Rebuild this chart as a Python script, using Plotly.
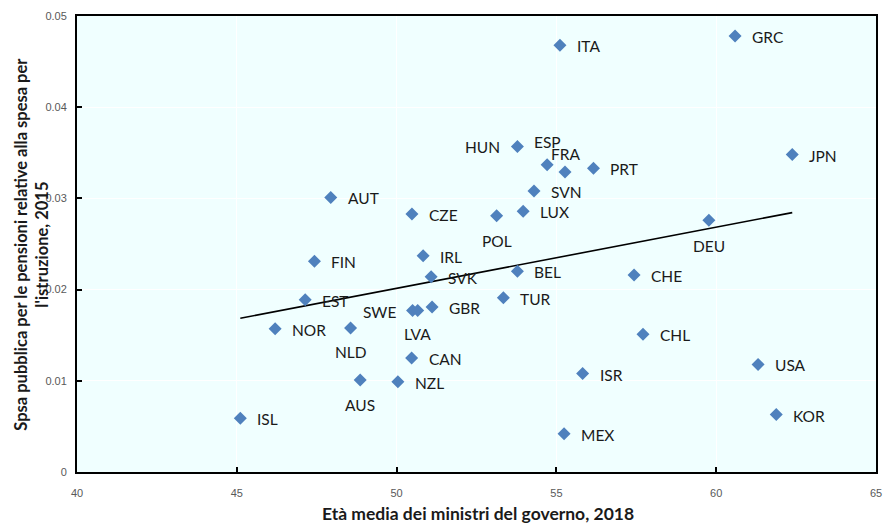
import numpy as np
import plotly.graph_objects as go

countries = ["ITA", "GRC", "JPN", "HUN", "ESP", "FRA", "PRT", "SVN", "AUT", "CZE",
             "POL", "LUX", "DEU", "IRL", "FIN", "SVK", "BEL", "CHE", "EST", "TUR",
             "GBR", "SWE", "LVA", "NOR", "NLD", "CAN", "ISR", "CHL", "USA", "KOR",
             "MEX", "AUS", "NZL", "ISL"]
age_2018 = [55.11, 60.59, 62.38, 53.78, 54.71, 55.27, 56.16, 54.30, 47.94, 50.48,
            53.13, 53.96, 59.77, 50.83, 47.43, 51.08, 53.78, 57.43, 47.14, 53.34,
            51.11, 50.50, 50.66, 46.20, 48.56, 50.47, 55.82, 57.71, 61.31, 61.88,
            55.24, 48.86, 50.04, 45.11]
pension_edu_2015 = [0.0468, 0.0478, 0.0348, 0.0357, 0.0337, 0.0329, 0.0333, 0.0308, 0.0301, 0.0283,
                    0.0281, 0.0286, 0.0276, 0.0237, 0.0231, 0.0214, 0.0220, 0.0216, 0.0189, 0.0191,
                    0.0181, 0.0177, 0.0177, 0.0157, 0.0158, 0.0125, 0.0108, 0.0151, 0.0118, 0.0063,
                    0.0042, 0.0101, 0.0099, 0.0059]

x_ticks = [40, 45, 50, 55, 60, 65]
y_ticks = [0, 0.01, 0.02, 0.03, 0.04, 0.05]
y_tick_labels = ["0", "0.01", "0.02", "0.03", "0.04", "0.05"]

x_title = "Età media dei ministri del governo, 2018"
y_title = "Spsa pubblica per le pensioni relative alla spesa per<br>l'istruzione, 2015"

# label placement (style only)
left_labels = {"HUN", "SWE"}
above_labels = {"ESP": -23, "FRA": -18}
below_labels = {"POL": 25, "DEU": 26, "LVA": 23, "NLD": 24, "AUS": 25}

fig = go.Figure()

# linear trend line computed from the data
slope, intercept = np.polyfit(age_2018, pension_edu_2015, 1)
x_line = np.array([min(age_2018), max(age_2018)])
fig.add_trace(go.Scatter(x=x_line, y=slope * x_line + intercept, mode="lines",
                         line=dict(color="black", width=1.6), hoverinfo="skip",
                         showlegend=False))

fig.add_trace(go.Scatter(x=age_2018, y=pension_edu_2015, mode="markers",
                         marker=dict(symbol="diamond", size=10, color="#4F81BD"),
                         text=countries, showlegend=False))

label_font = dict(family="Lato, Carlito, Calibri, sans-serif", size=15.5, color="#1a1a1a")
for c, xv, yv in zip(countries, age_2018, pension_edu_2015):
    if c in left_labels:
        fig.add_annotation(x=xv, y=yv, text=c, showarrow=False, xanchor="right",
                           xshift=-15, yshift=-1, font=label_font)
    elif c in above_labels:
        fig.add_annotation(x=xv, y=yv, text=c, showarrow=False, xanchor="center",
                           yshift=-above_labels[c], font=label_font)
    elif c in below_labels:
        fig.add_annotation(x=xv, y=yv, text=c, showarrow=False, xanchor="center",
                           yshift=-below_labels[c], font=label_font)
    else:
        fig.add_annotation(x=xv, y=yv, text=c, showarrow=False, xanchor="left",
                           xshift=15, yshift=-1, font=label_font)

# axis titles
fig.add_annotation(xref="paper", yref="paper", x=0.502, y=-0.09, xanchor="center",
                   yanchor="middle", showarrow=False, text="<b>" + x_title + "</b>",
                   font=dict(family="Lato, Carlito, Calibri, sans-serif", size=17.5,
                             color="#1a1a1a"))
fig.add_annotation(xref="paper", yref="paper", x=-0.058, y=0.5, xanchor="center",
                   yanchor="middle", showarrow=False, textangle=-90,
                   text="<b>" + y_title + "</b>",
                   font=dict(family="Lato, Carlito, Calibri, sans-serif", size=16.5,
                             color="#1a1a1a"))

tick_font = dict(family="Liberation Sans, Arial, sans-serif", size=11, color="#595959")

fig.update_layout(
    width=883, height=523,
    margin=dict(l=77, r=7, t=16, b=51),
    paper_bgcolor="white",
    plot_bgcolor="#F0FFFF",
    xaxis=dict(range=[40, 65], tickvals=x_ticks, ticks="inside", ticklen=5,
               tickcolor="black", tickwidth=1.5, automargin=False,
               ticklabeloverflow="allow",
               showline=True, linecolor="black", linewidth=2, mirror=True,
               showgrid=True, gridcolor="white", gridwidth=1, zeroline=False,
               tickfont=tick_font, ticklabelstandoff=10),
    yaxis=dict(range=[0, 0.05], tickvals=y_ticks, ticktext=y_tick_labels,
               ticks="inside", ticklen=5, tickcolor="black", tickwidth=1.5,
               automargin=False,
               showline=True, linecolor="black", linewidth=2, mirror=True,
               showgrid=True, gridcolor="white", gridwidth=1, zeroline=False,
               tickfont=tick_font, ticklabelstandoff=6),
)

fig.write_html("out.html", config={"displayModeBar": False},
               post_script="document.body.style.margin='0px';document.body.style.overflow='hidden';")
